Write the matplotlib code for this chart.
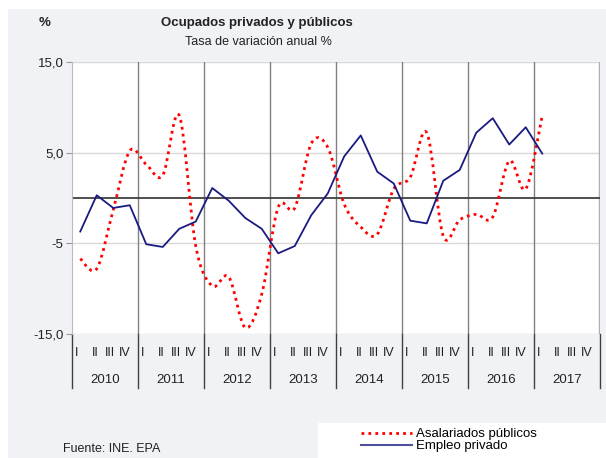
import numpy as np
import matplotlib
matplotlib.use("Agg")
import matplotlib.pyplot as plt
from matplotlib.path import Path
from matplotlib.patches import PathPatch, Rectangle
from matplotlib.lines import Line2D
import matplotlib.transforms as mtransforms

plt.rcParams['font.family'] = ['Liberation Sans', 'DejaVu Sans']

# data, quarterly, from 2010 Q1
years = ['2010', '2011', '2012', '2013', '2014', '2015', '2016', '2017']
quarters = ['I', 'II', 'III', 'IV']
empleo_privado = [-3.7, 0.3, -1.1, -0.8, -5.1, -5.4, -3.4, -2.6,
                  1.1, -0.3, -2.2, -3.4, -6.1, -5.3, -1.9, 0.5,
                  4.6, 6.9, 2.9, 1.6, -2.5, -2.8, 1.9, 3.1,
                  7.2, 8.8, 5.9, 7.8, 4.9]
asalariados_publicos = [-6.7, -7.8, -1.3, 5.2, 3.7, 2.5, 9.1, -5.3,
                        -9.7, -8.7, -14.3, -10.6, -1.0, -1.1, 6.0, 5.6,
                        -0.7, -3.2, -4.0, 1.0, 2.3, 7.2, -4.2, -2.4,
                        -1.8, -2.1, 4.1, 1.0, 9.1]
yticks = [15, 5, -5, -15]
ytick_labels = ['15,0', '5,0', '-5', '-15,0']

W, H = 606, 458
fig = plt.figure(figsize=(W / 100, H / 100), dpi=100)
bg = '#f1f2f6'
fig.patches.append(Rectangle((8 / W, 0), 1, 1 - 9 / H, transform=fig.transFigure,
                             facecolor=bg, edgecolor='none', zorder=-2))
fig.patches.append(Rectangle((318 / W, 0), 1, 35 / H, transform=fig.transFigure,
                             facecolor='white', edgecolor='none', zorder=-1))

ax = fig.add_axes([72 / W, (H - 334) / H, 528 / W, 272 / H])
ax.set_facecolor('white')
ax.set_xlim(0, 32)
ax.set_ylim(-15, 15)

# grid
for v in yticks:
    ax.axhline(v, color='#d9d9d9', lw=1, zorder=1)
ax.axhline(0, color='#404040', lw=1.3, zorder=2)
for k in range(1, 8):
    ax.axvline(4 * k, color='#808080', lw=1, zorder=1)
ax.axvline(32, color='#b0b0b0', lw=2.5, zorder=1)

ax.set_yticks(yticks)
ax.set_yticklabels(ytick_labels, fontsize=9.5, color='#222222')
ax.tick_params(axis='y', length=4, color='#999999', pad=2)
ax.set_xticks([])
for s in ['top', 'right', 'bottom']:
    ax.spines[s].set_visible(False)
ax.spines['left'].set_color('#bbbbbb')

x = np.arange(len(empleo_privado)) + 0.5

# smoothed dotted line (bezier through the points)
xp = np.arange(len(asalariados_publicos)) + 0.5
yp = np.array(asalariados_publicos)
pts = np.column_stack([xp, yp])
verts = [pts[0]]
codes = [Path.MOVETO]
n = len(pts)
for i in range(n - 1):
    p0 = pts[max(i - 1, 0)]
    p1 = pts[i]
    p2 = pts[i + 1]
    p3 = pts[min(i + 2, n - 1)]
    c1 = p1 + (p2 - p0) / 6
    c2 = p2 - (p3 - p1) / 6
    verts += [c1, c2, p2]
    codes += [Path.CURVE4] * 3
red_style = dict(color='#ff0000', lw=2.0, linestyle=(0, (1, 1.5)))
ax.add_patch(PathPatch(Path(verts, codes), fill=False, edgecolor=red_style['color'],
                       lw=red_style['lw'], linestyle=red_style['linestyle'], zorder=3))

ax.plot(x, empleo_privado, color='#1a1a80', lw=1.3, zorder=4)

# category axis
trans = mtransforms.blended_transform_factory(ax.transData, fig.transFigure)
q_off = [0.3, 1.4, 2.3, 3.2]
for k, yr in enumerate(years):
    for j, q in enumerate(quarters):
        ax.text(4 * k + q_off[j], 1 - 353 / H, q, transform=trans, fontsize=9,
                ha='center', va='center', color='#222222')
    ax.text(4 * k + 2, 1 - 380 / H, yr, transform=trans, fontsize=9.5,
            ha='center', va='center', color='#222222')
for k in range(0, 9):
    ax.plot([4 * k, 4 * k], [1 - 334 / H, 1 - 388 / H], transform=trans,
            color='#404040', lw=1, clip_on=False)

# titles
fig.text(257 / W, 1 - 23 / H, 'Ocupados privados y públicos', fontsize=9.5,
         fontweight='bold', ha='center', va='center', color='#222222')
fig.text(258 / W, 1 - 42 / H, 'Tasa de variación anual %', fontsize=9,
         ha='center', va='center', color='#222222')
fig.text(45 / W, 1 - 23 / H, '%', fontsize=9.5, fontweight='bold',
         ha='center', va='center', color='#222222')
fig.text(63 / W, 1 - 449 / H, 'Fuente: INE. EPA', fontsize=9,
         ha='left', va='center', color='#222222')

handles = [Line2D([], [], **red_style),
           Line2D([], [], color='#5050a0', lw=1.5)]
fig.legend(handles, ['Asalariados públicos', 'Empleo privado'],
           loc='upper left', bbox_to_anchor=(361 / W, 1 - 428 / H),
           frameon=False, fontsize=9.5, handlelength=3.9, handletextpad=0.3,
           labelspacing=0.0, borderpad=0, borderaxespad=0)

fig.savefig('out.png', dpi=100)
